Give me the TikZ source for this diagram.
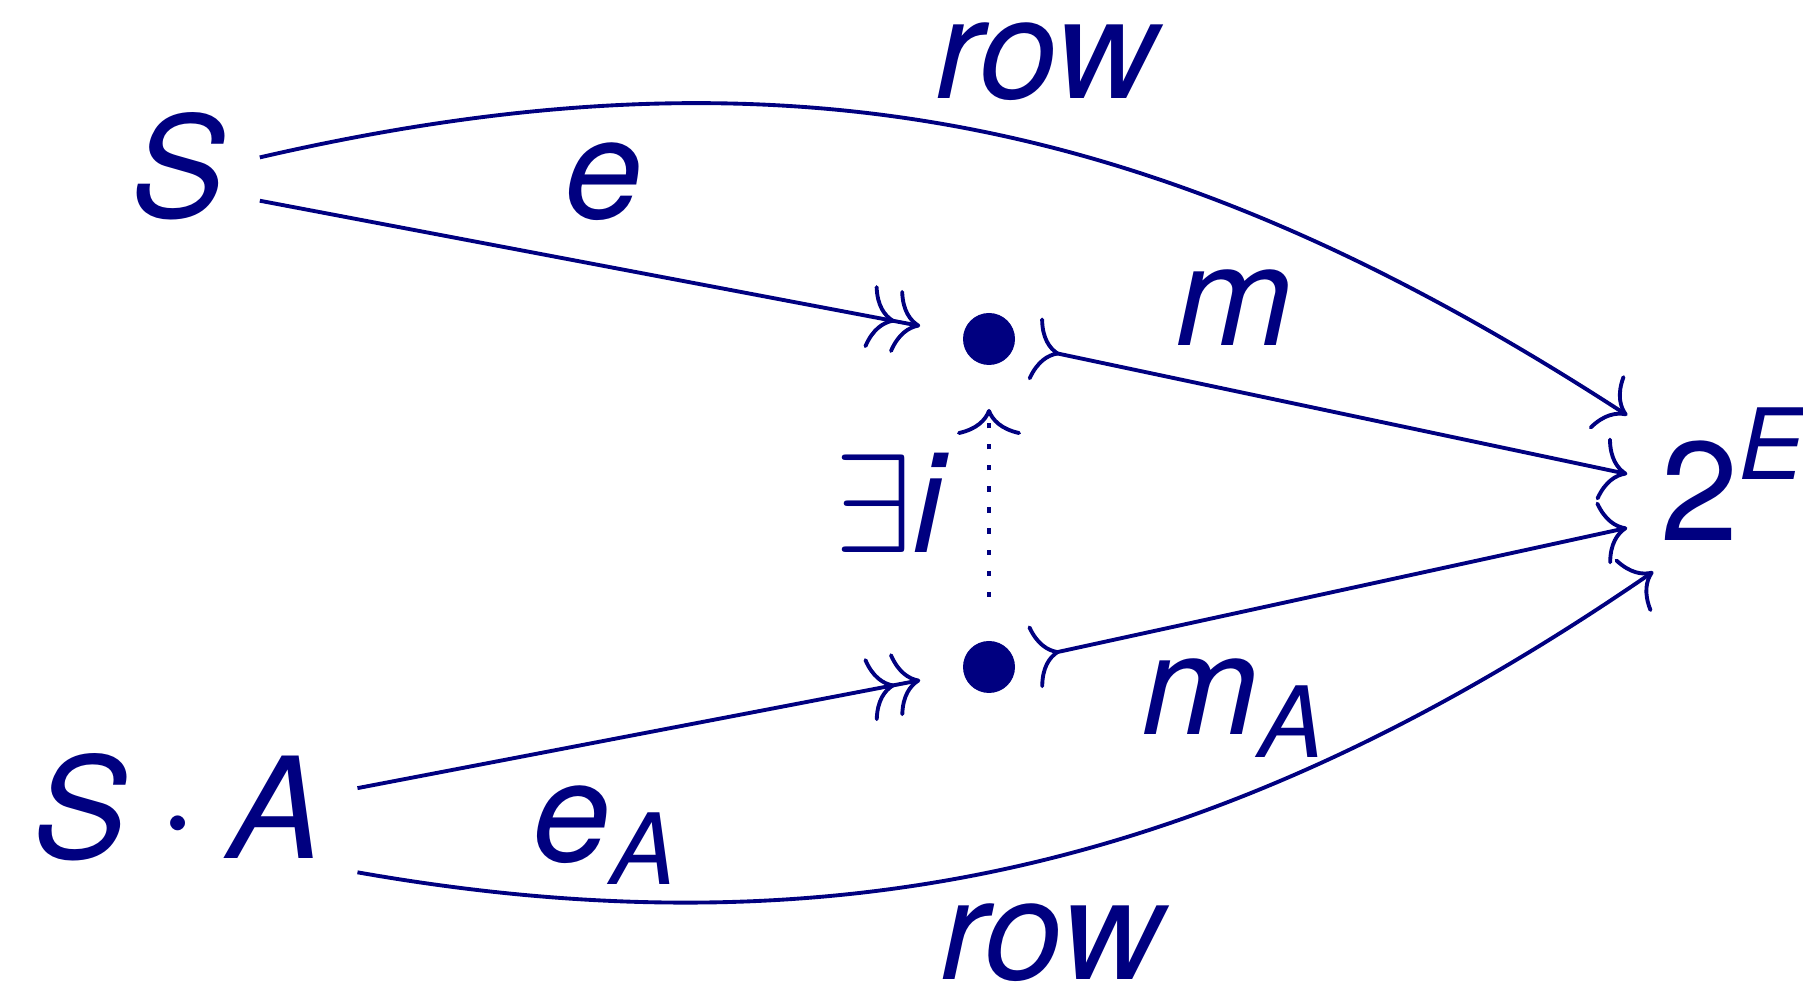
\documentclass[tikz,border=0pt]{standalone}
\usepackage{fix-cm}
\usepackage{amsmath}
\usepackage{fontspec}
\setmainfont{TeX Gyre Heros}
\usepackage{xcolor}
\usepackage{tikz}
\usetikzlibrary{arrows.meta}
\definecolor{navy}{RGB}{0,0,128}

\begin{document}
\begin{tikzpicture}[font=\fontsize{40}{48}\selectfont,color=navy,line width=1.1pt,
      inner sep=4.3mm,
      >={Computer Modern Rightarrow[length=2.6mm,width=6.4mm]},
      obj/.style={inner xsep=3.3mm},
      dot/.style={circle,fill,inner sep=0pt,minimum size=5.2mm,outer sep=4.4mm},
      dotline/.style={dash pattern=on 1.5pt off 4.5pt},
      rowlabel/.style={inner sep=0.5mm}]
    \useasboundingbox (0,0) rectangle (18.03,-9.85);
    % objects
    \node[obj] (S) at (1.78,-1.66) {\textit{S}};
    \node[obj] (SA) at (1.78,-8.07) {$\textit{S}\cdot\textit{A}$};
    \node[dot] (d1) at (9.89,-3.39) {};
    \node[dot] (d2) at (9.89,-6.67) {};
    \node[inner xsep=3.1mm] (E) at (17.33,-4.74) {$\textup{2}^{\textit{E}}$};
    % epis into the points
    \draw[->>] (S.-23) -- node[pos=0.52,above] {\textit{e}} (d1);
    \draw[->>] (SA.6) -- node[pos=0.44,below] {$\textit{e}_{\textit{A}}$} (d2);
    % monos out of the points
    \draw[>->,shorten <=-2.4mm] (d1) -- node[pos=0.31,above] {\textit{m}} (E.west);
    \draw[>->,shorten <=-2.4mm] (d2) -- node[pos=0.31,below] {$\textit{m}_{\textit{A}}$} (E.-153);
    % the map between them
    \draw[->,dotline] (d2) -- node[midway,left] {$\exists\textit{i}$} (d1);
    % rows
    \draw[->] (S.6) to[out=13,in=147,looseness=1]
      node[rowlabel,pos=0.56,above=4mm] {\textit{row}} (E.151);
    \draw[->] (SA.-20) to[out=-10,in=-145.5,looseness=0.97]
      node[rowlabel,pos=0.515,below=4mm] {\textit{row}} ([shift={(0.26,0.14)}]E.south west);
  \end{tikzpicture}
\end{document}
